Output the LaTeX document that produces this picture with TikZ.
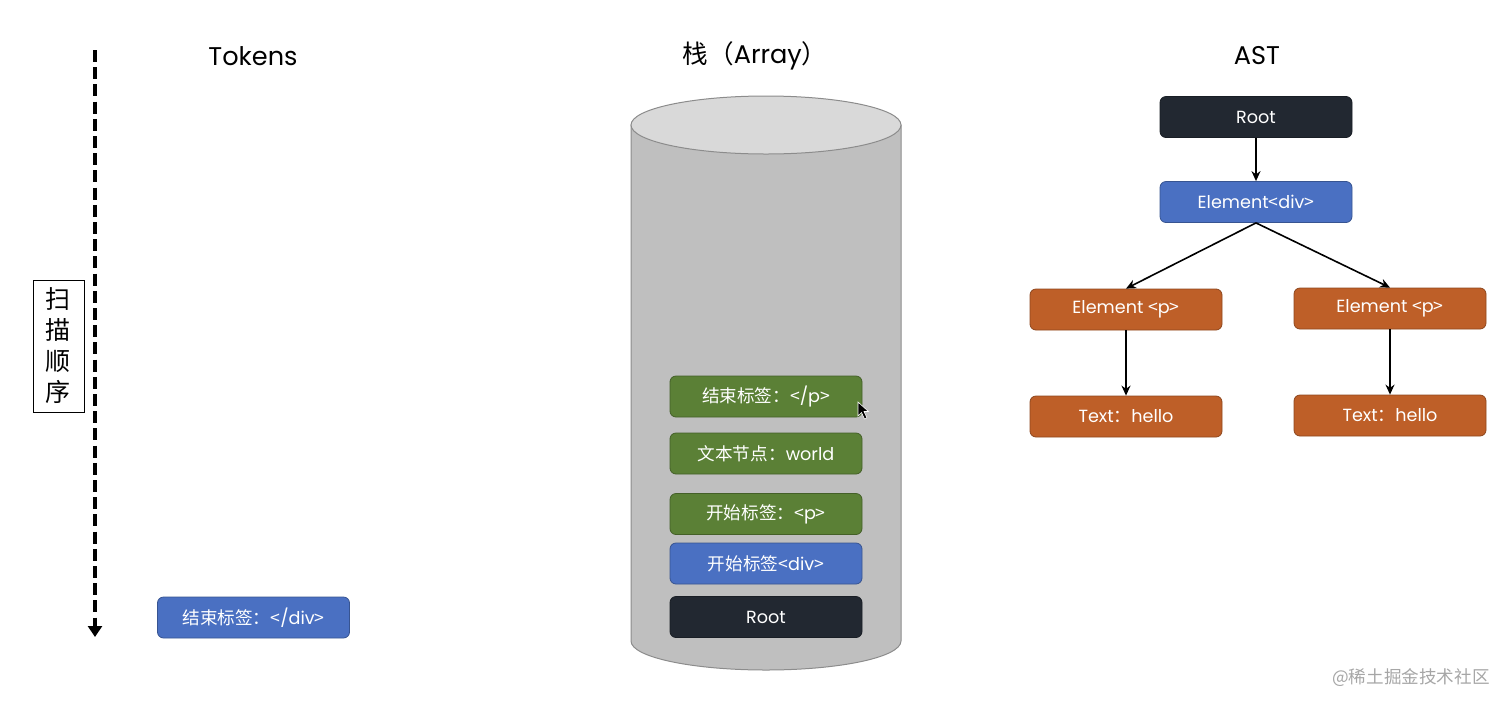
\documentclass[tikz,border=0pt]{standalone}
\usepackage{fontspec}
\setmainfont{Poppins}
\newfontfamily\cjk{Noto Sans CJK SC}
\usetikzlibrary{arrows.meta}
\definecolor{dk}{HTML}{222831}
\definecolor{bl}{HTML}{4A70C2}
\definecolor{gr}{HTML}{5B8036}
\definecolor{og}{HTML}{BE5F28}
\definecolor{cylbody}{HTML}{BFBFBF}
\definecolor{cyltop}{HTML}{D9D9D9}
\definecolor{cylline}{HTML}{8C8C8C}
\newcommand\zh[1]{{\cjk #1}}
\newcommand\lt{{\cjk <}}
\newcommand\gt{{\cjk >}}
\tikzset{
  box/.style={draw=#1!75!black, fill=#1, rounded corners=3pt, minimum width=96pt,
    minimum height=20.5pt, text=white, font=\fontsize{8.8}{10}\selectfont, inner sep=0pt, line width=0.4pt},
  con/.style={-{Stealth[length=5pt,width=4.5pt]}, line width=0.8pt},
  title/.style={font=\fontsize{12.8}{15}\selectfont}
}
\begin{document}
\begin{tikzpicture}[x=0.5pt,y=-0.5pt]
\useasboundingbox (0,0) rectangle (1512,708);
% scan direction
\coordinate (s0) at (95,50);
\coordinate (s1) at (95,637);
\draw[line width=2.4pt, dash pattern=on 6pt off 2.6pt, -{Triangle[length=5.5pt,width=7pt]}] (s0) -- (s1);
\node[draw, line width=0.5pt, minimum width=25.5pt, minimum height=66pt, inner sep=0pt,
  align=center, font=\cjk\fontsize{12.5}{15.5}\selectfont] (scan) at (58.5,346) {扫\\描\\顺\\序};
% titles
\node[title] (tTok) at (253,56) {Tokens};
\node[title] (tStack) at (755,56) {\zh{栈（}Array\zh{）}};
\node[title] (tAst) at (1257,56) {AST};
% token
\node[box=bl] (tok) at (253.5,617.5) {\zh{结束标签：}\lt/div\gt};
% cylinder
\path[fill=cylbody, draw=cylline, line width=0.5pt] (631,125) -- (631,641)
  arc[start angle=180, end angle=0, x radius=135, y radius=29] -- (901,125) -- cycle;
\draw[fill=cyltop, draw=cylline, line width=0.5pt] (766,125) ellipse [x radius=135, y radius=29];
% stack
\node[box=gr] (st5) at (766,396.5) {\zh{结束标签：}\lt/p\gt};
\node[box=gr] (st4) at (766,453.5) {\zh{文本节点：}world};
\node[box=gr] (st3) at (766,514) {\zh{开始标签：}\lt p\gt};
\node[box=bl] (st2) at (766,563.5) {\zh{开始标签}\lt div\gt};
\node[box=dk] (st1) at (766,617) {Root};
% cursor
\fill[black, draw=white, line width=0.3pt] (858,402) -- (858,416) -- (861.5,412.5) -- (864.5,419) -- (867,418) -- (864,411.5) -- (868.5,411.5) -- cycle;
% AST
\node[box=dk] (root) at (1256,117) {Root};
\node[box=bl] (div) at (1256,202) {Element\lt div\gt};
\node[box=og] (pL) at (1126,309.5) {Element \lt p\gt};
\node[box=og] (pR) at (1390,308.5) {Element \lt p\gt};
\node[box=og] (tL) at (1126,416.5) {Text\zh{：}hello};
\node[box=og] (tR) at (1390,415.5) {Text\zh{：}hello};
\draw[con] (root) -- (div);
\draw[con] (div.south) -- (pL.north);
\draw[con] (div.south) -- (pR.north);
\draw[con] (pL) -- (tL);
\draw[con] (pR) -- (tR);
% watermark
\node[text=black!35, font=\cjk\fontsize{8.8}{10}\selectfont] (wm) at (1411,678) {@稀土掘金技术社区};
\end{tikzpicture}
\end{document}
